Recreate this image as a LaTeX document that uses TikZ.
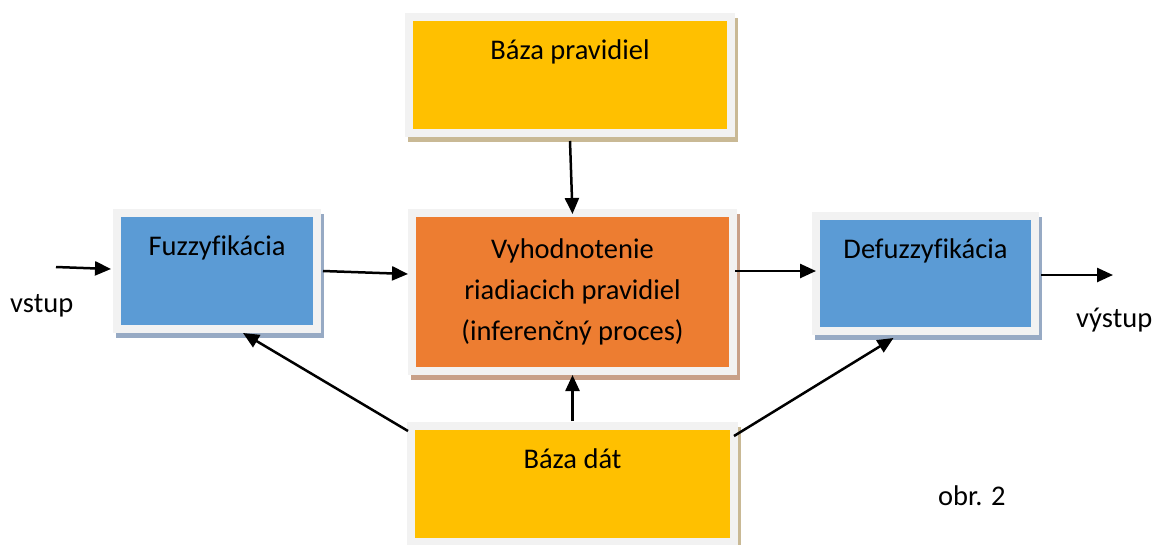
\documentclass[tikz,border=0pt]{standalone}
\usepackage{fontspec}
\setmainfont{Carlito}[Ligatures=CommonOff]
\usepackage{tikz}
\usetikzlibrary{arrows.meta,shadows}
\definecolor{zlta}{HTML}{FFC000}
\definecolor{oranz}{HTML}{ED7D31}
\definecolor{modra}{HTML}{5B9BD5}
\definecolor{ram}{HTML}{F2F2F2}
\definecolor{tienz}{HTML}{C9B995}
\definecolor{tieno}{HTML}{C8A088}
\definecolor{tienm}{HTML}{97AAC4}

\begin{document}
\begin{tikzpicture}[x=1pt,y=-1pt,
  font=\fontsize{28.5}{41}\selectfont,
  blok/.style={draw=ram,line width=8pt,inner sep=0pt,
    general shadow={shadow xshift=3pt,shadow yshift=-5pt,fill=#1,draw=#1,line width=8pt}},
  nizky/.style={text height=42pt,text depth=74pt},
  sip/.style={line width=2.5pt,-{Triangle[length=16pt,width=14pt]}}]
\useasboundingbox (0,0) rectangle (1156,544);
% bloky
\node[blok=tienz,nizky,fill=zlta,minimum width=322pt] (pravidla) at (570,75) {Báza pravidiel};
\node[blok=tienm,nizky,fill=modra,minimum width=200pt] (fuzzy) at (217,271) {Fuzzyfikácia};
\node[blok=tieno,fill=oranz,minimum width=321pt,minimum height=158pt,align=center] (infer) at (572.5,292)
  {Vyhodnotenie\\riadiacich pravidiel\\(inferenčný proces)};
\node[blok=tienm,nizky,text depth=73pt,fill=modra,minimum width=219pt] (defuzzy) at (925.5,273.5) {Defuzzyfikácia};
\node[blok=tienz,nizky,fill=zlta,minimum width=323pt] (data) at (572.5,484) {Báza dát};
% popisy
\node[anchor=base west,inner sep=0pt] (vstup) at (10,312) {vstup};
\node[anchor=base west,inner sep=0pt] (vystup) at (1076,327) {výstup};
\node[anchor=base west,inner sep=0pt] (obr) at (938,505) {obr. 2};
\coordinate (vst) at (56,267);
\coordinate (vyst) at (1113,275);
% sipky
\draw[sip] (vst) -- ([shift={(-2,-2)}]fuzzy.west);
\draw[sip] ([shift={(2,0)}]fuzzy.east) -- ([shift={(0,-18)}]infer.west);
\draw[sip] ([shift={(-2,-21)}]infer.east) -- ([shift={(4,-2.5)}]defuzzy.west);
\draw[sip] ([shift={(2,1.5)}]defuzzy.east) -- (vyst);
\draw[sip] ([shift={(0,4)}]pravidla.south) -- ([shift={(0,5)}]infer.north);
\draw[sip] ([shift={(0,-1)}]data.north) -- (infer.south);
\draw[sip] ([shift={(1,9)}]data.north west) -- ([shift={(26,0)}]fuzzy.south);
\draw[sip] ([shift={(-4,14)}]data.north east) -- ([shift={(-32,3)}]defuzzy.south);
\end{tikzpicture}
\end{document}
